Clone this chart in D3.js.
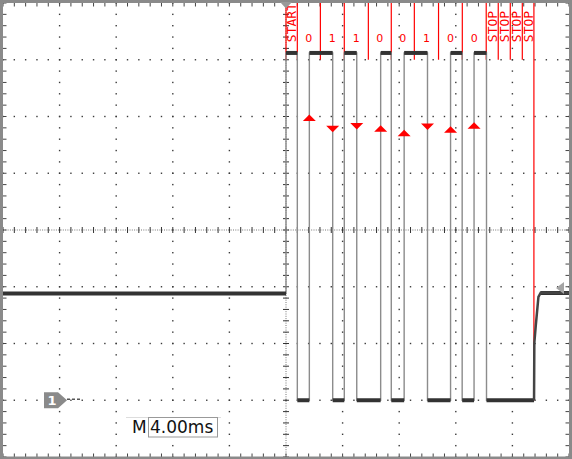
<!DOCTYPE html>
<html>
<head>
<meta charset="utf-8">
<script src="https://cdn.jsdelivr.net/npm/d3@7"></script>
<style>
  body { margin: 0; background: #fff; }
  svg { display: block; }
</style>
</head>
<body>
<div id="chart"></div>
<script>
// scope settings: 4 ms per division, 10 x 8 divisions, values in divisions
let msPerDiv = 4
let xDomain = [-20, 20]
let yDomain = [-4, 4]

// channel 1 trace levels (divisions)
let idleLevel = -1.12
let highLevel = 3.12
let lowLevel = -3.0

// edge times in ms (first edge goes high, then alternates)
let edgeTimes = [0, 0.8, 1.65, 3.3, 4.12, 5.0, 6.69, 7.44, 8.35, 10.0, 11.63, 12.45, 13.29, 14.17]
let lastLowEnd = 17.53

// recovery back to idle at the end
let riseTimes = [17.53, 17.55, 17.65, 17.84, 18.01, 20]
let riseLevels = [-3.0, -1.99, -1.69, -1.18, -1.1, -1.11]

// decoder bit boundaries (ms) and labels
let bitBounds = [0, 0.8, 2.43, 4.12, 5.82, 7.44, 9.07, 10.78, 12.46, 14.15, 15.0, 15.85, 16.7, 17.52]
let bitLabels = ['START', '0', '1', '1', '0', '0', '1', '0', '0', 'STOP', 'STOP', 'STOP', 'STOP']

// edge markers
let markerTimes = [1.65, 3.3, 5.0, 6.69, 8.35, 10.0, 11.63, 13.29]
let markerDirs = ['up', 'down', 'down', 'up', 'up', 'down', 'up', 'up']
let markerLevels = [1.98, 1.78, 1.83, 1.79, 1.71, 1.82, 1.77, 1.84]

let triggerLevel = -1.02
let timebaseLabel = '4.00ms'

let width = 572
let height = 459
let plot = { left: 3, right: 569, top: 3, bottom: 457 }

let svg = d3
  .select('#chart')
  .append('svg')
  .attr('width', width)
  .attr('height', height)

svg.append('rect').attr('width', width).attr('height', height).attr('fill', '#fff')

let xPositionScale = d3.scaleLinear().domain(xDomain).range([plot.left, plot.right])
let yPositionScale = d3.scaleLinear().domain(yDomain).range([plot.bottom, plot.top])

let majorX = d3.range(xDomain[0], xDomain[1] + 0.01, msPerDiv)
let minorX = d3.range(xDomain[0], xDomain[1] + 0.01, msPerDiv / 5)
let majorY = d3.range(yDomain[0], yDomain[1] + 0.01, 1)
let minorY = d3.range(yDomain[0], yDomain[1] + 0.01, 0.2)

// grid dots
let grid = svg.append('g').attr('class', 'grid')
let dots = []
majorY.filter(v => v > -4 && v < 4 && v !== 0).forEach(v => {
  minorX.forEach(t => dots.push([t, v]))
})
majorX.filter(t => t > -20 && t < 20 && t !== 0).forEach(t => {
  minorY.forEach(v => dots.push([t, v]))
})
grid
  .selectAll('rect')
  .data(dots)
  .enter()
  .append('rect')
  .attr('x', d => xPositionScale(d[0]) - 0.7)
  .attr('y', d => yPositionScale(d[1]) - 0.7)
  .attr('width', 1.4)
  .attr('height', 1.4)
  .attr('fill', '#3a3a3a')

// center cross hair
grid
  .append('line')
  .attr('x1', plot.left)
  .attr('x2', plot.right)
  .attr('y1', yPositionScale(0))
  .attr('y2', yPositionScale(0))
  .attr('stroke', '#777')
  .attr('stroke-dasharray', '1,1.3')
grid
  .append('line')
  .attr('x1', xPositionScale(0))
  .attr('x2', xPositionScale(0))
  .attr('y1', plot.top)
  .attr('y2', plot.bottom)
  .attr('stroke', '#777')
  .attr('stroke-dasharray', '1,1.3')

grid
  .selectAll('.tick-h')
  .data(minorX)
  .enter()
  .append('line')
  .attr('class', 'tick-h')
  .attr('x1', d => xPositionScale(d))
  .attr('x2', d => xPositionScale(d))
  .attr('y1', yPositionScale(0) - 3)
  .attr('y2', yPositionScale(0) + 3)
  .attr('stroke', '#333')

grid
  .selectAll('.tick-v')
  .data(minorY)
  .enter()
  .append('line')
  .attr('class', 'tick-v')
  .attr('x1', xPositionScale(0) - 3)
  .attr('x2', xPositionScale(0) + 3)
  .attr('y1', d => yPositionScale(d))
  .attr('y2', d => yPositionScale(d))
  .attr('stroke', '#333')

// frame ticks
grid
  .selectAll('.edge-x')
  .data(minorX)
  .enter()
  .append('path')
  .attr('class', 'edge-x')
  .attr('d', d => {
    let px = xPositionScale(d)
    return 'M' + px + ',' + plot.top + 'v3.5M' + px + ',' + plot.bottom + 'v-3.5'
  })
  .attr('stroke', '#444')

grid
  .selectAll('.edge-y')
  .data(minorY)
  .enter()
  .append('path')
  .attr('class', 'edge-y')
  .attr('d', d => {
    let py = yPositionScale(d)
    return 'M' + plot.left + ',' + py + 'h3.5M' + plot.right + ',' + py + 'h-3.5'
  })
  .attr('stroke', '#444')

svg
  .append('rect')
  .attr('x', 1.5)
  .attr('y', 1.5)
  .attr('width', 569)
  .attr('height', 456.5)
  .attr('fill', 'none')
  .attr('stroke', '#8a8a8a')
  .attr('stroke-width', 3)

// decoder bit boundaries
svg
  .selectAll('.bit-line')
  .data(bitBounds)
  .enter()
  .append('line')
  .attr('class', 'bit-line')
  .attr('x1', d => xPositionScale(d))
  .attr('x2', d => xPositionScale(d))
  .attr('y1', plot.top)
  .attr('y2', (d, i) => (i === bitBounds.length - 1 ? yPositionScale(lowLevel) : yPositionScale(3)))
  .attr('stroke', 'red')
  .attr('stroke-width', 1.2)

let cells = bitLabels.map((label, i) => {
  return { label: label, mid: (bitBounds[i] + bitBounds[i + 1]) / 2 }
})

svg
  .selectAll('.bit-label')
  .data(cells)
  .enter()
  .append('text')
  .attr('class', 'bit-label')
  .attr('fill', 'red')
  .each(function(d) {
    let el = d3.select(this)
    let cx = xPositionScale(d.mid)
    let cy = yPositionScale(3.31)
    if (d.label.length > 1) {
      el
        .attr('transform', 'translate(' + cx + ',' + cy + ') rotate(-90)')
        .attr('dy', '0.36em')
        .attr('font-family', 'DejaVu Sans Mono')
        .attr('font-size', 13)
    } else {
      el
        .attr('x', cx)
        .attr('y', cy)
        .attr('text-anchor', 'middle')
        .attr('font-family', 'DejaVu Sans')
        .attr('font-size', 11)
    }
  })
  .text(d => d.label)

// trace
let points = [[xDomain[0], idleLevel]]
edgeTimes.forEach((t, i) => {
  points.push([t, i % 2 === 0 ? highLevel : lowLevel])
})
points.push([lastLowEnd, lowLevel])

let stepLine = d3
  .line()
  .x(d => xPositionScale(d[0]))
  .y(d => yPositionScale(d[1]))
  .curve(d3.curveStepAfter)

svg
  .append('path')
  .attr('d', stepLine(points))
  .attr('fill', 'none')
  .attr('stroke', '#8c8c8c')
  .attr('stroke-width', 1.4)

let flats = []
for (let i = 0; i < points.length - 1; i++) {
  flats.push([points[i][0], points[i + 1][0], points[i][1]])
}
flats.push([riseTimes[riseTimes.length - 2], riseTimes[riseTimes.length - 1], riseLevels[riseLevels.length - 1]])

svg
  .selectAll('.flat')
  .data(flats)
  .enter()
  .append('line')
  .attr('class', 'flat')
  .attr('x1', d => xPositionScale(d[0]))
  .attr('x2', d => xPositionScale(d[1]))
  .attr('y1', d => yPositionScale(d[2]))
  .attr('y2', d => yPositionScale(d[2]))
  .attr('stroke', '#333')
  .attr('stroke-width', 4)

let riseLine = d3
  .line()
  .x((d, i) => xPositionScale(riseTimes[i]))
  .y(d => yPositionScale(d))

svg
  .append('path')
  .attr('d', riseLine(riseLevels))
  .attr('fill', 'none')
  .attr('stroke', '#444')
  .attr('stroke-width', 2.5)

// edge markers
svg
  .selectAll('.marker')
  .data(markerTimes)
  .enter()
  .append('path')
  .attr('class', 'marker')
  .attr('d', (d, i) => {
    let cx = xPositionScale(d)
    let cy = yPositionScale(markerLevels[i])
    let h = 6.5
    let w = 6.5
    if (markerDirs[i] === 'up') {
      return 'M' + (cx - w) + ',' + (cy + h / 2) + 'L' + cx + ',' + (cy - h / 2) + 'L' + (cx + w) + ',' + (cy + h / 2) + 'Z'
    }
    return 'M' + (cx - w) + ',' + (cy - h / 2) + 'L' + cx + ',' + (cy + h / 2) + 'L' + (cx + w) + ',' + (cy - h / 2) + 'Z'
  })
  .attr('fill', 'red')

// trigger position marker (top)
let tx = xPositionScale(0)
svg
  .append('path')
  .attr('d', 'M' + (tx - 6) + ',2L' + (tx + 6) + ',2L' + tx + ',8.5Z')
  .attr('fill', '#999')

// trigger level marker (right)
let ty = yPositionScale(triggerLevel)
svg
  .append('path')
  .attr('d', 'M556,' + ty + 'L564,' + (ty - 6) + 'L564,' + (ty + 6) + 'Z')
  .attr('fill', '#a5a5a5')

// channel 1 ground marker
let gy = yPositionScale(lowLevel)
svg
  .append('path')
  .attr('d', 'M44,' + (gy - 8) + 'H58L67,' + gy + 'L58,' + (gy + 8) + 'H44Z')
  .attr('fill', '#8a8a8a')
svg
  .append('text')
  .attr('x', 52)
  .attr('y', gy + 5)
  .attr('text-anchor', 'middle')
  .attr('font-family', 'DejaVu Sans')
  .attr('font-weight', 'bold')
  .attr('font-size', 13)
  .attr('fill', '#fff')
  .text('1')
svg
  .append('line')
  .attr('x1', 67)
  .attr('x2', 82)
  .attr('y1', gy - 1)
  .attr('y2', gy - 1)
  .attr('stroke', '#555')
  .attr('stroke-width', 1.5)
  .attr('stroke-dasharray', '3,2')

// timebase readout
svg
  .append('line')
  .attr('x1', 126)
  .attr('x2', 221)
  .attr('y1', 417.5)
  .attr('y2', 417.5)
  .attr('stroke', '#ddd')
svg
  .append('rect')
  .attr('x', 148.5)
  .attr('y', 417.5)
  .attr('width', 69)
  .attr('height', 19.5)
  .attr('fill', '#fff')
  .attr('stroke', '#999')
svg
  .append('text')
  .attr('x', 132)
  .attr('y', 433)
  .attr('font-family', 'DejaVu Sans')
  .attr('font-size', 17)
  .attr('fill', '#111')
  .text('M')
svg
  .append('text')
  .attr('x', 150)
  .attr('y', 433)
  .attr('font-family', 'DejaVu Sans')
  .attr('font-size', 17)
  .attr('fill', '#111')
  .text(timebaseLabel)
</script>
</body>
</html>
